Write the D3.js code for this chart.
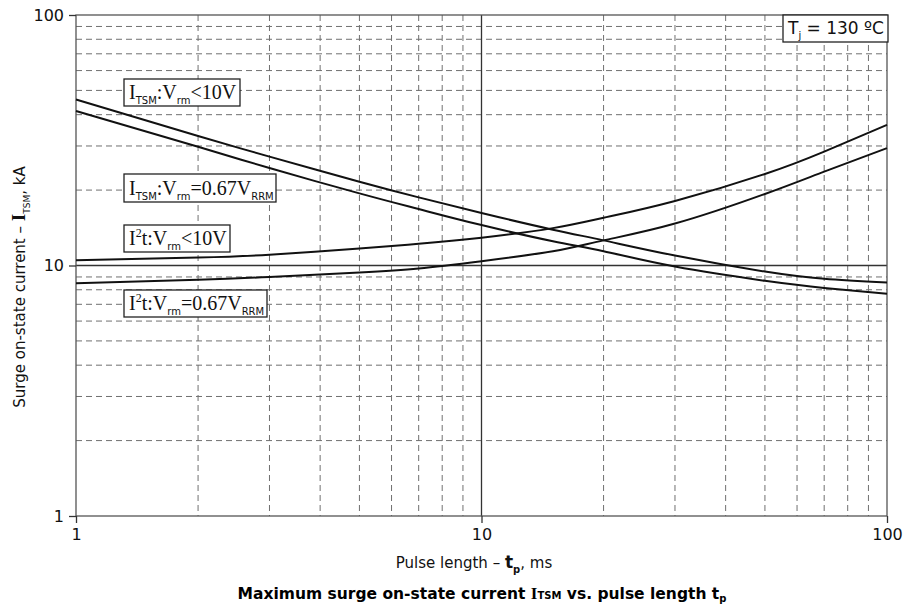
<!DOCTYPE html>
<html><head><meta charset="utf-8">
<script src="https://cdn.jsdelivr.net/npm/d3@7"></script>
<style>
body{margin:0;background:#fff;}
svg{display:block;}
</style></head>
<body>
<svg id="c" width="906" height="604"></svg>
<script>
// ---- data ----
const pulseLength = [1, 2, 3, 5, 7, 10, 15, 20, 30, 50, 70, 100];
const itsmLow   = [46.0, 32.9, 27.2, 21.6, 18.7, 16.2, 13.9, 12.6, 10.96, 9.46, 8.85, 8.55];
const itsmRRM   = [41.4, 29.8, 24.5, 19.4, 16.8, 14.5, 12.5, 11.4, 9.9, 8.69, 8.13, 7.71];
const i2tLow    = [10.5, 10.76, 11.04, 11.7, 12.2, 12.9, 14.1, 15.5, 18.1, 23.2, 28.5, 36.4];
const i2tRRM    = [8.5, 8.77, 9.0, 9.38, 9.73, 10.4, 11.4, 12.6, 14.7, 19.3, 23.7, 29.4];
const xTicks = [1, 10, 100];
const yTicks = [1, 10, 100];

const svg = d3.select("#c");
const L = 76, R = 887, T = 15, B = 516;
const x = d3.scaleLog().domain([1, 100]).range([L, R]);
const y = d3.scaleLog().domain([1, 100]).range([B, T]);

const sans = "'DejaVu Sans', Verdana, sans-serif";
const serif = "'Liberation Serif', 'Times New Roman', serif";

// grid
const minor = [];
[1, 10].forEach(d => { for (let k = 2; k <= 9; k++) minor.push(d * k); });
const g = svg.append("g");
g.selectAll("line.vx").data(minor).enter().append("line")
  .attr("x1", d => x(d)).attr("x2", d => x(d)).attr("y1", T).attr("y2", B)
  .attr("stroke", "#707070").attr("stroke-width", 1).attr("stroke-dasharray", "6,4");
g.selectAll("line.hy").data(minor).enter().append("line")
  .attr("y1", d => y(d)).attr("y2", d => y(d)).attr("x1", L).attr("x2", R)
  .attr("stroke", "#707070").attr("stroke-width", 1).attr("stroke-dasharray", "6,4");
// solid decade lines
g.append("line").attr("x1", x(10)).attr("x2", x(10)).attr("y1", T).attr("y2", B)
  .attr("stroke", "#333").attr("stroke-width", 1.3);
g.append("line").attr("y1", y(10)).attr("y2", y(10)).attr("x1", L).attr("x2", R)
  .attr("stroke", "#333").attr("stroke-width", 1.3);

// frame
svg.append("rect").attr("x", L).attr("y", T).attr("width", R - L).attr("height", B - T)
  .attr("fill", "none").attr("stroke", "#555").attr("stroke-width", 1.3);

// axes
const xAxis = d3.axisBottom(x).tickValues(xTicks).tickFormat(d3.format("d")).tickSize(7).tickPadding(6);
const yAxis = d3.axisLeft(y).tickValues(yTicks).tickFormat(d3.format("d")).tickSize(7).tickPadding(5);
const gx = svg.append("g").attr("transform", `translate(0,${B})`).call(xAxis);
const gy = svg.append("g").attr("transform", `translate(${L},0)`).call(yAxis);
[gx, gy].forEach(a => {
  a.select(".domain").remove();
  a.selectAll("line").attr("stroke", "#333").attr("stroke-width", 1.3);
  a.selectAll("text").attr("font-family", sans).attr("font-size", 16).attr("fill", "#111");
});

// curves
const line = d3.line().x(d => x(d[0])).y(d => y(d[1])).curve(d3.curveNatural);
[itsmLow, itsmRRM, i2tLow, i2tRRM].forEach(s => {
  svg.append("path").datum(pulseLength.map((t, i) => [t, s[i]]))
    .attr("d", line).attr("fill", "none").attr("stroke", "#111").attr("stroke-width", 2);
});

// label boxes
function labelBox(bx, by, bw, bh, parts) {
  const gg = svg.append("g");
  gg.append("rect").attr("x", bx).attr("y", by).attr("width", bw).attr("height", bh)
    .attr("fill", "#fff").attr("stroke", "#222").attr("stroke-width", 1.3);
  const t = gg.append("text").attr("x", bx + 5).attr("y", by + bh - 7)
    .attr("font-family", serif).attr("font-size", 20).attr("fill", "#111");
  parts.forEach(p => {
    const ts = t.append("tspan").text(p.t);
    if (p.sub) ts.attr("font-family", sans).attr("font-size", 10).attr("dy", 5);
    if (p.sup) ts.attr("font-size", 12).attr("dy", -8);
    if (p.back) ts.attr("dy", p.back);
  });
  return gg;
}
labelBox(124, 79, 116, 27, [{t:"I"},{t:"TSM",sub:1},{t:":V",back:-5},{t:"rm",sub:1},{t:"<10V",back:-5}]);
labelBox(124, 174, 152, 28, [{t:"I"},{t:"TSM",sub:1},{t:":V",back:-5},{t:"rm",sub:1},{t:"=0.67V",back:-5},{t:"RRM",sub:1}]);
labelBox(124, 225, 106, 27, [{t:"I"},{t:"2",sup:1},{t:"t:V",back:8},{t:"rm",sub:1},{t:"<10V",back:-5}]);
labelBox(124, 290, 143, 27, [{t:"I"},{t:"2",sup:1},{t:"t:V",back:8},{t:"rm",sub:1},{t:"=0.67V",back:-5},{t:"RRM",sub:1}]);

// Tj box
const tj = svg.append("g");
tj.append("rect").attr("x", 783).attr("y", 15).attr("width", 105).attr("height", 27)
  .attr("fill", "#fff").attr("stroke", "#222").attr("stroke-width", 1.3);
const tjt = tj.append("text").attr("x", 788).attr("y", 34).attr("font-family", sans)
  .attr("font-size", 17).attr("fill", "#111");
tjt.append("tspan").text("T");
tjt.append("tspan").text("j").attr("font-size", 10).attr("dy", 5);
tjt.append("tspan").text(" = 130 ºC").attr("dy", -5);

// x title
const xt = svg.append("text").attr("x", 474).attr("y", 568).attr("text-anchor", "middle")
  .attr("font-family", sans).attr("font-size", 15).attr("fill", "#111");
xt.append("tspan").text("Pulse length – ");
xt.append("tspan").text("t").attr("font-weight", "bold").attr("font-size", 17);
xt.append("tspan").text("p").attr("font-weight", "bold").attr("font-size", 10).attr("dy", 5);
xt.append("tspan").text(", ms").attr("dy", -5);

// y title
const yt = svg.append("text").attr("transform", "translate(25,287) rotate(-90)")
  .attr("text-anchor", "middle").attr("font-family", sans).attr("font-size", 15).attr("fill", "#111");
yt.append("tspan").text("Surge on-state current – ");
yt.append("tspan").text("I").attr("font-family", serif).attr("font-weight", "bold").attr("font-size", 19);
yt.append("tspan").text("TSM").attr("font-size", 9).attr("dy", 5);
yt.append("tspan").text(", kA").attr("dy", -5);

// chart title
const tt = svg.append("text").attr("x", 482).attr("y", 599).attr("text-anchor", "middle")
  .attr("font-family", sans).attr("font-size", 15.5).attr("font-weight", "bold").attr("fill", "#000");
tt.append("tspan").text("Maximum surge on-state current ");
tt.append("tspan").text("I").attr("font-family", serif).attr("font-size", 17);
tt.append("tspan").text("TSM").attr("font-size", 10);
tt.append("tspan").text(" vs. pulse length t");
tt.append("tspan").text("p").attr("font-size", 10).attr("dy", 3);
</script>
</body></html>
